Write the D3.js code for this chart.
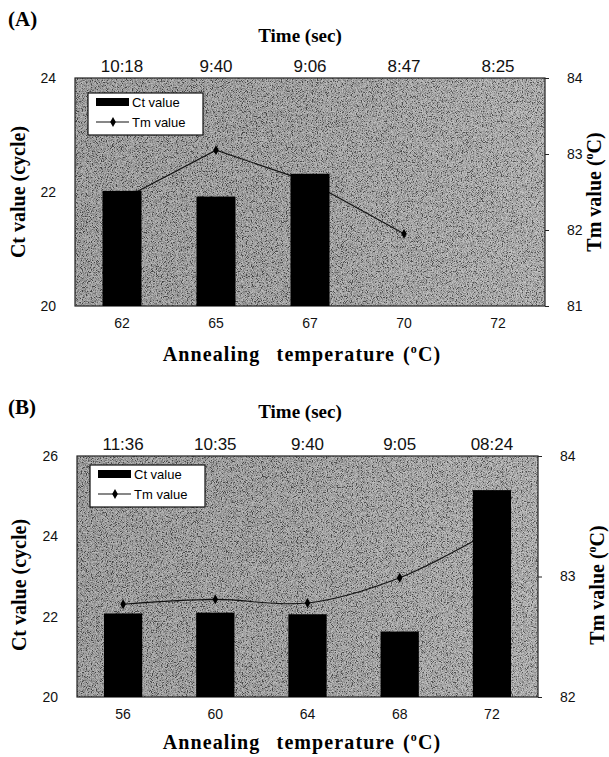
<!DOCTYPE html>
<html><head><meta charset="utf-8">
<script src="https://cdn.jsdelivr.net/npm/d3@7"></script>
<style>html,body{margin:0;padding:0;background:#fff;}svg{display:block;}</style>
</head><body>
<script>
// ---- data ----
const tempsA = ["62", "65", "67", "70", "72"];
const timesA = ["10:18", "9:40", "9:06", "8:47", "8:25"];
const ctA = [22.02, 21.92, 22.32, null, null];
const tmA = [82.4, 83.05, 82.63, 81.95, null];
const ctTicksA = [20, 22, 24];
const tmTicksA = [81, 82, 83, 84];

const tempsB = ["56", "60", "64", "68", "72"];
const timesB = ["11:36", "10:35", "9:40", "9:05", "08:24"];
const ctB = [22.08, 22.1, 22.06, 21.63, 25.15];
const tmB = [82.77, 82.81, 82.78, 82.99, 83.38];
const ctTicksB = [20, 22, 24, 26];
const tmTicksB = [82, 83, 84];

const W = 609, H = 757;
const svg = d3.select("body").append("svg").attr("width", W).attr("height", H);
const defs = svg.append("defs");
const f = defs.append("filter").attr("id", "noise").attr("x", 0).attr("y", 0).attr("width", "100%").attr("height", "100%");
f.append("feTurbulence").attr("type", "fractalNoise").attr("baseFrequency", 1.2).attr("numOctaves", 1).attr("seed", 4).attr("result", "t");
f.append("feColorMatrix").attr("type", "matrix")
  .attr("values", "1 0 0 0 0  1 0 0 0 0  1 0 0 0 0  0 0 0 0 1");
const ct = f.append("feComponentTransfer");
["feFuncR", "feFuncG", "feFuncB"].forEach(n => ct.append(n).attr("type", "linear").attr("slope", 3).attr("intercept", -1));
const g = defs.append("linearGradient").attr("id", "bg").attr("x1", 0).attr("x2", 1).attr("y1", 0).attr("y2", 0);
g.append("stop").attr("offset", "0%").attr("stop-color", "#7e7e7e");
g.append("stop").attr("offset", "45%").attr("stop-color", "#848484");
g.append("stop").attr("offset", "100%").attr("stop-color", "#999999");

function panel(o) {
  const {x0, x1, y0, y1, temps, times, ctVals, tmVals, ctTicks, tmTicks, smooth} = o;
  const x = d3.scaleBand().domain(temps).range([x0, x1]).paddingInner(0.585).paddingOuter(0.2925);
  const xc = d => x(d) + x.bandwidth() / 2;
  const yL = d3.scaleLinear().domain([ctTicks[0], ctTicks[ctTicks.length - 1]]).range([y1, y0]);
  const yR = d3.scaleLinear().domain([tmTicks[0], tmTicks[tmTicks.length - 1]]).range([y1, y0]);

  // background
  svg.append("rect").attr("x", x0).attr("y", y0).attr("width", x1 - x0).attr("height", y1 - y0).attr("fill", "url(#bg)");
  svg.append("rect").attr("x", x0).attr("y", y0).attr("width", x1 - x0).attr("height", y1 - y0)
    .attr("filter", "url(#noise)").attr("opacity", 0.45);
  svg.append("rect").attr("x", x0).attr("y", y0).attr("width", x1 - x0).attr("height", y1 - y0)
    .attr("fill", "none").attr("stroke", "#222").attr("stroke-width", 1.2);

  // Tm line
  const pts = temps.map((t, i) => ({t, v: tmVals[i]})).filter(d => d.v != null);
  const line = d3.line().x(d => xc(d.t)).y(d => yR(d.v)).curve(smooth ? d3.curveCatmullRom.alpha(0.5) : d3.curveLinear);
  svg.append("path").attr("d", line(pts)).attr("fill", "none").attr("stroke", "#111").attr("stroke-width", 1.1);
  svg.selectAll(null).data(pts).enter().append("path")
    .attr("d", d3.symbol(d3.symbolDiamond, 28)())
    .attr("transform", d => `translate(${xc(d.t)},${yR(d.v)})`).attr("fill", "#000");

  // bars
  const bars = temps.map((t, i) => ({t, v: ctVals[i]})).filter(d => d.v != null);
  svg.selectAll(null).data(bars).enter().append("rect")
    .attr("x", d => x(d.t)).attr("width", x.bandwidth())
    .attr("y", d => yL(d.v)).attr("height", d => yL(ctTicks[0]) - yL(d.v)).attr("fill", "#000");

  // axes
  const fontTick = "Liberation Sans, Arial, sans-serif";
  const aL = svg.append("g").attr("transform", `translate(${x0},0)`)
    .call(d3.axisLeft(yL).tickValues(ctTicks).tickSize(0).tickPadding(19).tickFormat(d3.format("d")));
  const aR = svg.append("g").attr("transform", `translate(${x1},0)`)
    .call(d3.axisRight(yR).tickValues(tmTicks).tickSize(4).tickPadding(18).tickFormat(d3.format("d")));
  const aB = svg.append("g").attr("transform", `translate(0,${y1})`)
    .call(d3.axisBottom(x).tickSize(0).tickPadding(12));
  const aT = svg.append("g").attr("transform", `translate(0,${y0})`)
    .call(d3.axisTop(x).tickSize(0).tickPadding(6).tickFormat((d, i) => times[i]));
  [aL, aR, aB, aT].forEach(a => {
    a.select(".domain").remove();
    a.selectAll("text").attr("font-family", fontTick).attr("font-size", 14).attr("fill", "#111");
  });
  aR.selectAll("line").attr("stroke", "#222");
  aT.selectAll("text").attr("font-size", 17);

  // legend
  const lx = x0 + 13, ly = y0 + o.legOff;
  const lg = svg.append("g");
  lg.append("rect").attr("x", lx).attr("y", ly).attr("width", 115).attr("height", 42)
    .attr("fill", "#fff").attr("stroke", "#111").attr("stroke-width", 1.2);
  lg.append("rect").attr("x", lx + 8).attr("y", ly + 5).attr("width", 33).attr("height", 8).attr("fill", "#000");
  lg.append("line").attr("x1", lx + 8).attr("x2", lx + 41).attr("y1", ly + 29).attr("y2", ly + 29).attr("stroke", "#111").attr("stroke-width", 1.1);
  lg.append("path").attr("d", d3.symbol(d3.symbolDiamond, 28)()).attr("transform", `translate(${lx + 25},${ly + 29})`);
  lg.append("text").attr("x", lx + 44).attr("y", ly + 14).text("Ct value")
    .attr("font-family", fontTick).attr("font-size", 13);
  lg.append("text").attr("x", lx + 44).attr("y", ly + 34).text("Tm value")
    .attr("font-family", fontTick).attr("font-size", 13);

  // titles
  const serif = "Liberation Serif, Times New Roman, serif";
  svg.append("text").attr("x", 300).attr("y", o.timeY).attr("text-anchor", "middle")
    .attr("font-family", serif).attr("font-weight", "bold").attr("font-size", 19).text("Time (sec)");
  const bt = svg.append("text").attr("x", 302).attr("y", o.annY).attr("text-anchor", "middle")
    .attr("font-family", serif).attr("font-weight", "bold").attr("font-size", 20)
    .attr("word-spacing", 2).attr("letter-spacing", 1.1).attr("xml:space", "preserve");
  bt.append("tspan").text("Annealing\u00a0\u00a0temperature (");
  bt.append("tspan").attr("font-size", 12).attr("dy", -8).text("o");
  bt.append("tspan").attr("dy", 8).text("C)");
  svg.append("text").attr("transform", `translate(${o.leftTitleX},${o.leftTitleY}) rotate(-90)`)
    .attr("text-anchor", "middle").attr("font-family", serif).attr("font-weight", "bold").attr("font-size", 20)
    .text("Ct value (cycle)");
  const rt = svg.append("text").attr("transform", `translate(${o.rightTitleX},${o.leftTitleY}) rotate(-90)`)
    .attr("text-anchor", "middle").attr("font-family", serif).attr("font-weight", "bold").attr("font-size", 20);
  rt.append("tspan").text("Tm value (");
  rt.append("tspan").attr("font-size", 12).attr("dy", -8).text("o");
  rt.append("tspan").attr("dy", 8).text("C)");
  svg.append("text").attr("x", 8).attr("y", o.labelY).attr("font-family", serif).attr("font-weight", "bold")
    .attr("font-size", 21).text(o.label);
}

panel({x0: 75, x1: 545, y0: 78, y1: 306, temps: tempsA, times: timesA, ctVals: ctA, tmVals: tmA,
  ctTicks: ctTicksA, tmTicks: tmTicksA, smooth: false, timeY: 42, annY: 361, leftTitleX: 25, leftTitleY: 192,
  rightTitleX: 601, label: "(A)", labelY: 26, legOff: 15});
panel({x0: 77, x1: 538, y0: 456, y1: 697, temps: tempsB, times: timesB, ctVals: ctB, tmVals: tmB,
  ctTicks: ctTicksB, tmTicks: tmTicksB, smooth: true, timeY: 418, annY: 749, leftTitleX: 26, leftTitleY: 585,
  rightTitleX: 604, label: "(B)", labelY: 414, legOff: 9});
</script>
</body></html>
